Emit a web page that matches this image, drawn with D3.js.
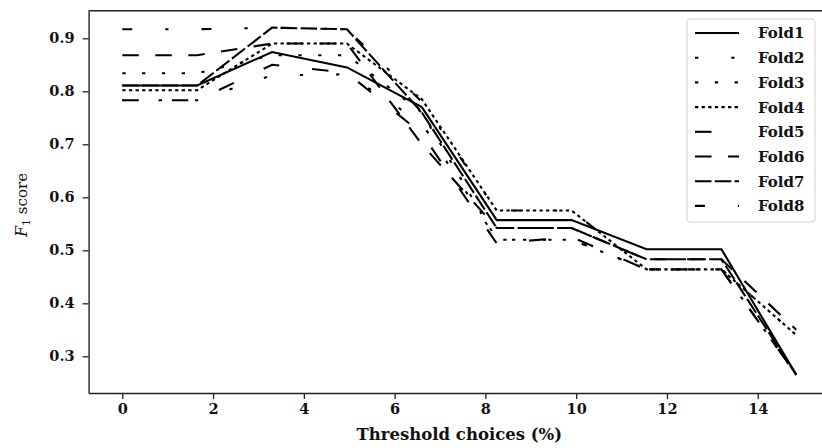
<!DOCTYPE html>
<html lang="en">
  <head>
    <meta charset="utf-8" />
    <title>F1 score per fold</title>
    <script src="https://d3js.org/d3.v7.min.js"></script>
    <style>
      body { margin: 0; background: #fff; }
      svg { display: block; }
    </style>
  </head>
  <body>
    <script>
      // thresholds (%) on the x axis
      var thresholds = [0, 1.65, 3.3, 4.95, 6.6, 8.25, 9.9, 11.55, 13.2, 14.85];

      var fold1 = [0.811, 0.811, 0.874, 0.845, 0.770, 0.557, 0.557, 0.502, 0.502, 0.265];
      var fold2 = [0.783, 0.783, 0.830, 0.832, 0.740, 0.520, 0.520, 0.464, 0.464, 0.340];
      var fold3 = [0.834, 0.834, 0.868, 0.868, 0.760, 0.520, 0.520, 0.464, 0.464, 0.265];
      var fold4 = [0.802, 0.802, 0.890, 0.890, 0.785, 0.575, 0.575, 0.464, 0.464, 0.340];
      var fold5 = [0.783, 0.783, 0.850, 0.835, 0.720, 0.513, 0.525, 0.464, 0.464, 0.265];
      var fold6 = [0.868, 0.868, 0.890, 0.890, 0.700, 0.542, 0.542, 0.483, 0.483, 0.350];
      var fold7 = [0.811, 0.811, 0.920, 0.917, 0.760, 0.542, 0.542, 0.483, 0.483, 0.265];
      var fold8 = [0.917, 0.917, 0.920, 0.917, 0.780, 0.575, 0.575, 0.464, 0.464, 0.265];

      var foldNames = ["Fold1", "Fold2", "Fold3", "Fold4", "Fold5", "Fold6", "Fold7", "Fold8"];
      var foldValues = [fold1, fold2, fold3, fold4, fold5, fold6, fold7, fold8];

      var xTicks = [0, 2, 4, 6, 8, 10, 12, 14];
      var yTicks = [0.3, 0.4, 0.5, 0.6, 0.7, 0.8, 0.9];

      // matplotlib style dash patterns, scaled with line width
      var k = 3.3;
      var dashes = [
        null,
        [1, 10],
        [1, 5],
        [1, 1],
        [5, 10],
        [5, 5],
        [5, 1],
        [3, 10, 1, 10]
      ].map(function (d) {
        return d ? d.map(function (v) { return v * k; }).join(",") : null;
      });

      var width = 822;
      var height = 448;
      // note: "top" is taken by window.top, so plot edges get their own names
      var plotL = 88.6, plotR = 830, plotT = 10.7, plotB = 393;
      var serif = "'DejaVu Serif', serif";

      var svg = d3
        .select("body")
        .append("svg")
        .attr("width", width)
        .attr("height", height);

      var x = d3.scaleLinear().domain([-0.7425, 15.5925]).range([plotL, plotR]);
      var y = d3.scaleLinear().domain([0.2308, 0.952]).range([plotB, plotT]);

      // lines
      var line = d3
        .line()
        .x(function (d, i) { return x(thresholds[i]); })
        .y(function (d) { return y(d); });

      svg
        .selectAll("path.fold")
        .data(foldValues)
        .enter()
        .append("path")
        .attr("class", "fold")
        .attr("d", line)
        .attr("fill", "none")
        .attr("stroke", "#000")
        .attr("stroke-width", 2.1)
        .attr("stroke-dasharray", function (d, i) { return dashes[i]; });

      // frame
      svg.append("line")
        .attr("x1", plotL).attr("x2", plotR)
        .attr("y1", plotT).attr("y2", plotT)
        .attr("stroke", "#222").attr("stroke-width", 1.4);
      svg.append("line")
        .attr("x1", plotR).attr("x2", plotR)
        .attr("y1", plotT).attr("y2", plotB)
        .attr("stroke", "#222").attr("stroke-width", 1.4);

      var xAxis = svg
        .append("g")
        .attr("transform", "translate(0," + plotB + ")")
        .call(d3.axisBottom(x).tickValues(xTicks).tickSize(6).tickSizeOuter(0).tickPadding(5));

      var yAxis = svg
        .append("g")
        .attr("transform", "translate(" + plotL + ",0)")
        .call(d3.axisLeft(y).tickValues(yTicks).tickFormat(d3.format(".1f")).tickSize(6).tickSizeOuter(0).tickPadding(8));

      [xAxis, yAxis].forEach(function (g) {
        g.select(".domain").attr("stroke", "#222").attr("stroke-width", 1.4);
        g.selectAll(".tick line").attr("stroke", "#222").attr("stroke-width", 1.3);
        g.selectAll(".tick text")
          .attr("fill", "#111")
          .style("font-family", serif)
          .style("font-weight", "bold")
          .style("font-size", "14.5px");
      });

      // axis labels
      svg
        .append("text")
        .attr("x", (plotL + plotR) / 2)
        .attr("y", 440)
        .attr("text-anchor", "middle")
        .style("font-family", serif)
        .style("font-weight", "bold")
        .style("font-size", "16.5px")
        .attr("fill", "#111")
        .text("Threshold choices (%)");

      var ylab = svg
        .append("text")
        .attr("transform", "translate(27,205) rotate(-90)")
        .attr("text-anchor", "middle")
        .style("font-family", serif)
        .style("font-size", "15px")
        .attr("fill", "#111");
      ylab.append("tspan").style("font-style", "italic").style("font-size", "16px").text("F");
      ylab.append("tspan").attr("dy", 3).style("font-size", "11px").text("1");
      ylab.append("tspan").attr("dy", -3).text(" score");

      // legend
      var legend = svg.append("g").attr("transform", "translate(687,19)");

      legend
        .append("rect")
        .attr("width", 128)
        .attr("height", 203)
        .attr("rx", 3)
        .attr("fill", "#fff")
        .attr("fill-opacity", 0.85)
        .attr("stroke", "#d0d0d0")
        .attr("stroke-width", 1);

      var rows = legend
        .selectAll("g.row")
        .data(foldNames)
        .enter()
        .append("g")
        .attr("class", "row")
        .attr("transform", function (d, i) { return "translate(0," + (14 + i * 24.7) + ")"; });

      rows
        .append("line")
        .attr("x1", 8)
        .attr("x2", 52)
        .attr("stroke", "#000")
        .attr("stroke-width", 2.1)
        .attr("stroke-dasharray", function (d, i) { return dashes[i]; });

      rows
        .append("text")
        .attr("x", 71)
        .attr("dy", "0.36em")
        .style("font-family", serif)
        .style("font-weight", "bold")
        .style("font-size", "15px")
        .attr("fill", "#111")
        .text(function (d) { return d; });
    </script>
  </body>
</html>
